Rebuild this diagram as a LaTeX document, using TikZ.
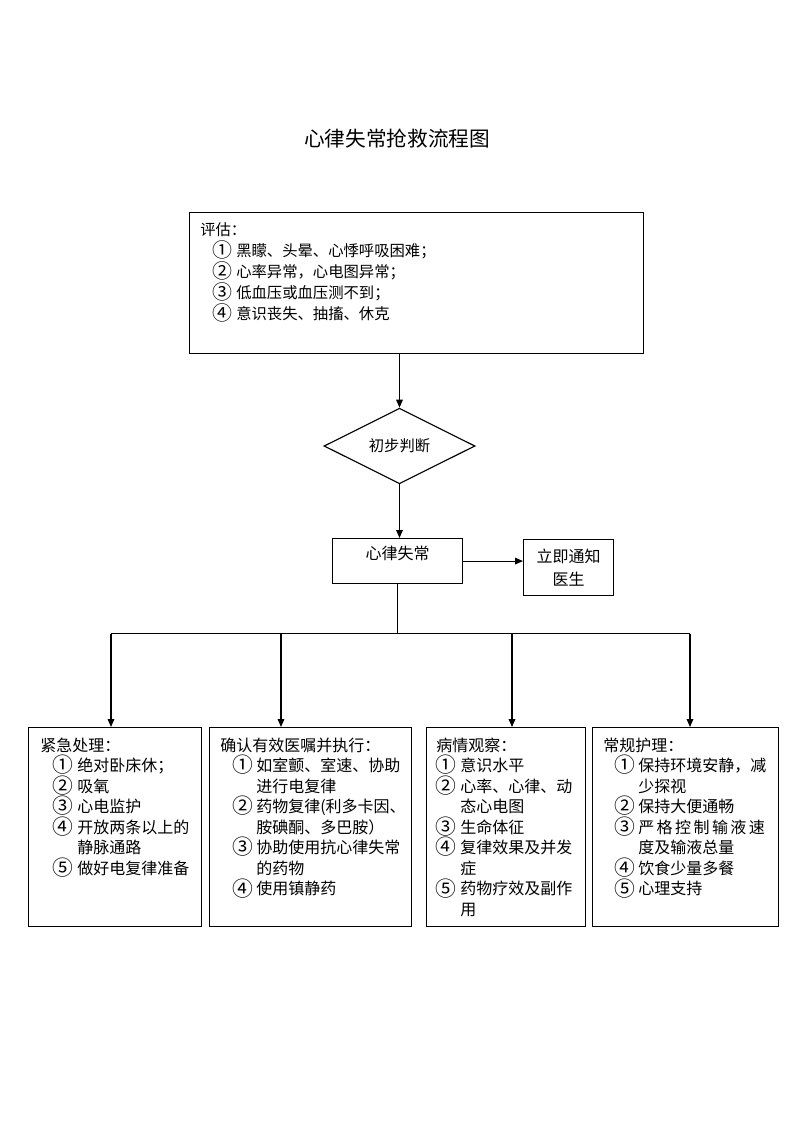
\documentclass[tikz,border=0pt]{standalone}
\usepackage{fontspec}
\usepackage{graphicx}
\setmainfont{Noto Sans CJK SC}
\usetikzlibrary{shapes.geometric,arrows.meta}
\newlength\cw
\newlength\ind
\newcommand\ci[1]{\hspace*{\ind}\makebox[\cw][l]{\hspace*{-0.05em}\smash{\raisebox{-0.08em}{\scalebox{1.3}{#1}}}}}
\newcommand\cont{\hspace*{\ind}\hspace*{\cw}}
\begin{document}
\begin{tikzpicture}[x=0.75pt,y=-0.75pt,
  box/.style={draw, line width=0.85pt, inner sep=0pt, anchor=north west},
  arr/.style={line width=0.85pt, -{Triangle[length=6pt,width=5pt]}},
  ln/.style={line width=0.85pt},
  txt/.style={anchor=base west, inner sep=0pt, font=\fontsize{12pt}{15.4pt}\selectfont},
  etxt/.style={anchor=base west, inner sep=0pt, font=\fontsize{11.5pt}{15.75pt}\selectfont}]
\useasboundingbox (0,0) rectangle (793,1122);

% title
\node[inner sep=0pt, font=\fontsize{15.5pt}{20pt}\selectfont] (title) at (397,139) {心律失常抢救流程图};

% evaluation box
\node[box, minimum width=340.5pt, minimum height=105.75pt] (eval) at (189,212) {};
\node[etxt] (evaltxt) at (200,235) {\setlength\ind{9.75pt}\setlength\cw{17.25pt}%
\begin{tabular}[t]{@{}l@{}}
评估：\\
\ci{①}黑矇、头晕、心悸呼吸困难；\\
\ci{②}心率异常，心电图异常；\\
\ci{③}低血压或血压测不到；\\
\ci{④}意识丧失、抽搐、休克
\end{tabular}};

% decision
\node[diamond, draw, line width=0.85pt, inner sep=0pt, minimum width=113.25pt, minimum height=49.5pt,
  font=\fontsize{11.5pt}{14pt}\selectfont] (dia) at (399.5,446) {初步判断};

% arrhythmia
\node[box, minimum width=97.5pt, minimum height=33.75pt,
  font=\fontsize{12pt}{15pt}\selectfont, text height=9pt, text depth=11pt] (arr) at (332,538) {心律失常};
\node[box, minimum width=67.5pt, minimum height=42pt, align=center,
  font=\fontsize{12pt}{17pt}\selectfont] (doc) at (523,539) {立即通知\\医生};

% bottom boxes
\node[box, minimum width=129.75pt, minimum height=149.25pt] (b1) at (28,727) {};
\node[box, minimum width=151.5pt, minimum height=149.25pt] (b2) at (209,727) {};
\node[box, minimum width=119.25pt, minimum height=149.25pt] (b3) at (426,727) {};
\node[box, minimum width=139.5pt, minimum height=149.25pt] (b4) at (592,727) {};

\node[txt] (t1) at (40,751) {\setlength\ind{9.75pt}\setlength\cw{18pt}%
\begin{tabular}[t]{@{}l@{}}
紧急处理：\\
\ci{①}绝对卧床休；\\
\ci{②}吸氧\\
\ci{③}心电监护\\
\ci{④}开放两条以上的\\
\cont 静脉通路\\
\ci{⑤}做好电复律准备
\end{tabular}};

\node[txt] (t2) at (220,751) {\setlength\ind{9.75pt}\setlength\cw{17.25pt}%
\begin{tabular}[t]{@{}l@{}}
确认有效医嘱并执行：\\
\ci{①}如室颤、室速、协助\\
\cont 进行电复律\\
\ci{②}药物复律(利多卡因、\\
\cont 胺碘酮、多巴胺）\\
\ci{③}协助使用抗心律失常\\
\cont 的药物\\
\ci{④}使用镇静药
\end{tabular}};

\node[txt] (t3) at (436,751) {\setlength\ind{0pt}\setlength\cw{18pt}%
\begin{tabular}[t]{@{}l@{}}
病情观察：\\
\ci{①}意识水平\\
\ci{②}心率、心律、动\\
\cont 态心电图\\
\ci{③}生命体征\\
\ci{④}复律效果及并发\\
\cont 症\\
\ci{⑤}药物疗效及副作\\
\cont 用
\end{tabular}};

\node[txt] (t4) at (603,751) {\setlength\ind{9pt}\setlength\cw{17.25pt}%
\begin{tabular}[t]{@{}l@{}}
常规护理：\\
\ci{①}保持环境安静，减\\
\cont 少探视\\
\ci{②}保持大便通畅\\
\ci{③}\makebox[95pt][s]{严\hfill 格\hfill 控\hfill 制\hfill 输\hfill 液\hfill 速}\\
\cont 度及输液总量\\
\ci{④}饮食少量多餐\\
\ci{⑤}心理支持
\end{tabular}};

% connectors
\draw[arr] (dia.north |- eval.south) -- (dia.north);
\draw[arr] (dia.south) -- (dia.south |- arr.north);
\draw[arr] (arr.east) -- (arr.east -| doc.west);
\coordinate (c1) at (111,633.5);
\coordinate (c2) at (281,633.5);
\coordinate (c3) at (512,633.5);
\coordinate (c4) at (690,633.5);
\draw[ln] (arr.south) -- (arr.south |- c1);
\draw[ln] (c1) -- (c4);
\draw[arr] (c1) -- (c1 |- b1.north);
\draw[arr] (c2) -- (c2 |- b2.north);
\draw[arr] (c3) -- (c3 |- b3.north);
\draw[arr] (c4) -- (c4 |- b4.north);
\end{tikzpicture}
\end{document}
